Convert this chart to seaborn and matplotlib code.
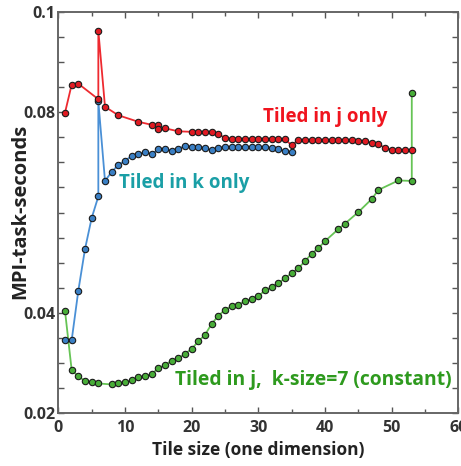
"""
Tile size vs MPI-task-seconds, three tiling strategies
"""
import numpy as np
import pandas as pd
import matplotlib
matplotlib.use("Agg")
import matplotlib.pyplot as plt
import seaborn as sns
from matplotlib.ticker import FixedLocator, MultipleLocator, FuncFormatter

# ---------------------------------------------
# data
# ---------------------------------------------
j_only_x = [1, 2, 3, 6, 6, 7, 9, 12, 14, 15, 15, 16, 18, 20, 21, 22, 23, 24, 25,
            26, 27, 28, 29, 30, 31, 32, 33, 34, 35, 36, 37, 38, 39, 40, 41, 42, 43,
            44, 45, 46, 47, 48, 49, 50, 51, 52, 53]
j_only_y = [0.0799, 0.0855, 0.0857, 0.0826, 0.0963, 0.0811, 0.0794, 0.0781, 0.0775,
            0.0774, 0.0766, 0.0768, 0.0762, 0.0761, 0.0761, 0.0761, 0.0761, 0.0756,
            0.0749, 0.0747, 0.0747, 0.0747, 0.0747, 0.0747, 0.0747, 0.0747, 0.0746,
            0.0746, 0.0734, 0.0745, 0.0745, 0.0745, 0.0745, 0.0745, 0.0745, 0.0745,
            0.0745, 0.0744, 0.0743, 0.0742, 0.0739, 0.0736, 0.0729, 0.0725, 0.0725,
            0.0725, 0.0724]

k_only_x = [1, 2, 3, 4, 5, 6, 6, 7, 8, 9, 10, 11, 12, 13, 14, 15, 16, 17, 18, 19,
            20, 21, 22, 23, 24, 25, 26, 27, 28, 29, 30, 31, 32, 33, 34, 35]
k_only_y = [0.0346, 0.0345, 0.0444, 0.0527, 0.0589, 0.0632, 0.0822, 0.0663, 0.0681,
            0.0695, 0.0703, 0.0713, 0.0716, 0.0721, 0.0716, 0.0726, 0.0727, 0.0723,
            0.0727, 0.0733, 0.0731, 0.0731, 0.0729, 0.0724, 0.0729, 0.0731, 0.0731,
            0.0731, 0.0731, 0.0731, 0.0731, 0.0730, 0.0729, 0.0726, 0.0723, 0.0720]

j_k7_x = [1, 2, 3, 4, 5, 6, 8, 9, 10, 11, 12, 13, 14, 15, 16, 17, 18, 19, 20, 21,
          22, 23, 24, 25, 26, 27, 28, 29, 30, 31, 32, 33, 34, 35, 36, 37, 38, 39,
          40, 42, 43, 45, 47, 48, 51, 53, 53]
j_k7_y = [0.0404, 0.0286, 0.0273, 0.0264, 0.0261, 0.0259, 0.0257, 0.0259, 0.0261,
          0.0265, 0.0271, 0.0273, 0.0278, 0.0289, 0.0296, 0.0304, 0.0309, 0.0318,
          0.0328, 0.0343, 0.0356, 0.0378, 0.0394, 0.0406, 0.0413, 0.0416, 0.0423,
          0.0428, 0.0433, 0.0445, 0.0451, 0.0459, 0.0469, 0.0479, 0.0489, 0.0503,
          0.0518, 0.0529, 0.0543, 0.0567, 0.0578, 0.0601, 0.0627, 0.0645, 0.0664,
          0.0663, 0.0839]

y_labelled = [0.02, 0.04, 0.08, 0.1]

# ---------------------------------------------
# style
# ---------------------------------------------
sns.set_style("ticks")
plt.rcParams['font.family'] = ['Open Sans', 'DejaVu Sans']
plt.rcParams['font.weight'] = 'bold'

fig = plt.figure(figsize=(4.61, 4.66), dpi=100)
ax = fig.add_axes([0.1265, 0.1137, 0.868, 0.8605])

series = [
    (j_k7_x, j_k7_y, "#66c455", "#48ad38"),
    (k_only_x, k_only_y, "#4a90d6", "#3a7fc4"),
    (j_only_x, j_only_y, "#ee2a30", "#e01a22"),
]
for xs, ys, line_c, face_c in series:
    df = pd.DataFrame({"x": xs, "y": ys})
    sns.lineplot(data=df, x="x", y="y", ax=ax, sort=False, estimator=None,
                 color=line_c, linewidth=1.3, marker="o", markersize=4.6,
                 markerfacecolor=face_c, markeredgecolor="#1a1a1a",
                 markeredgewidth=0.8)

ax.set_xlim(0, 60)
ax.set_ylim(0.02, 0.1)

ax.xaxis.set_major_locator(MultipleLocator(10))
ax.xaxis.set_minor_locator(MultipleLocator(5))
ax.yaxis.set_major_locator(FixedLocator(list(np.arange(0.02, 0.1001, 0.005))))


def ylab(v, pos):
    for t in y_labelled:
        if abs(v - t) < 1e-6:
            return f"{t:g}"
    return ""


ax.yaxis.set_major_formatter(FuncFormatter(ylab))
ax.tick_params(axis="both", which="both", direction="in", top=True, right=True,
               color="#555555", labelsize=11.5, labelcolor="#333333")
ax.tick_params(axis="both", which="major", length=4, width=1)
ax.tick_params(axis="x", which="minor", length=3, width=1)
ax.tick_params(axis="x", pad=5)
ax.tick_params(axis="y", pad=2)
for lab in ax.get_xticklabels() + ax.get_yticklabels():
    lab.set_fontweight("bold")

for sp in ax.spines.values():
    sp.set_color("#666666")
    sp.set_linewidth(1.4)

ax.set_xlabel("Tile size (one dimension)", fontsize=12.5, fontweight="bold",
              color="#222222")
ax.set_ylabel("MPI-task-seconds", fontsize=14.5, fontweight="bold",
              color="#222222")
ax.xaxis.set_label_coords(0.499, -0.092)
ax.xaxis.label.set_va("center")
ax.yaxis.set_label_coords(-0.095, 0.504)
ax.yaxis.label.set_va("center")

ax.text(40.0, 0.0790, "Tiled in j only", color="#f0141e", fontsize=13.5,
        fontweight="bold", ha="center", va="center")
ax.text(18.9, 0.0658, "Tiled in k only", color="#1a9fa6", fontsize=13.5,
        fontweight="bold", ha="center", va="center")
ax.text(38.3, 0.0266, "Tiled in j,  k-size=7 (constant)", color="#2e9a1e",
        fontsize=13.9, fontweight="bold", ha="center", va="center")

fig.savefig("out.png", dpi=100, facecolor="white")
